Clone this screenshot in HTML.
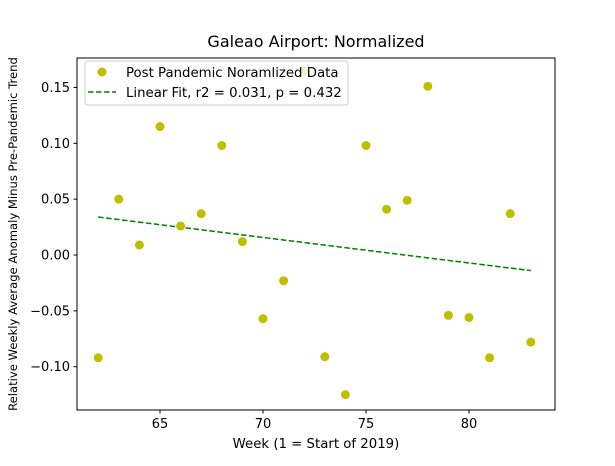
<!DOCTYPE html>
<html><head><meta charset="utf-8"><style>
body{margin:0;background:#fff;}
svg text{font-family:"DejaVu Sans","Liberation Sans",sans-serif;fill:#000;}
</style></head><body>
<svg id="c" width="615" height="461" xmlns="http://www.w3.org/2000/svg">
<text x="316" y="47" font-size="16" text-anchor="middle">Galeao Airport: Normalized</text>
<g id="marks"></g>
<rect x="77" y="58" width="478" height="352" fill="none" stroke="#000" stroke-width="1"/>
<g id="ticks"></g>
<text x="316" y="448" font-size="13.3" text-anchor="middle">Week (1 = Start of 2019)</text>
<text transform="translate(17,234) rotate(-90)" font-size="11.6" text-anchor="middle">Relative Weekly Average Anomaly Minus Pre-Pandemic Trend</text>
<g>
<rect x="85" y="61" width="263" height="44" rx="3" fill="#fff" fill-opacity="0.8" stroke="#ccc"/>
<circle cx="102" cy="72" r="4.5" fill="#bfbf00"/>
<text x="126" y="77" font-size="13.3">Post Pandemic Noramlized Data</text>
<line x1="88" y1="92" x2="116" y2="92" stroke="#008000" stroke-width="1.5" stroke-dasharray="5.5,2.5"/>
<text x="126" y="97" font-size="13.3">Linear Fit, r2 = 0.031, p = 0.432</text>
</g>
</svg>
<script>
const weeks=[62,63,64,65,66,67,68,69,70,71,72,73,74,75,76,77,78,79,80,81,82,83];
const values=[-0.092,0.050,0.009,0.115,0.026,0.037,0.098,0.012,-0.057,-0.023,0.165,-0.091,-0.125,0.098,0.041,0.049,0.151,-0.054,-0.056,-0.092,0.037,-0.078];
const xTicks=[65,70,75,80];
const yTicks=[-0.10,-0.05,0.00,0.05,0.10,0.15];
const yTickLabels=["−0.10","−0.05","0.00","0.05","0.10","0.15"];
const NS="http://www.w3.org/2000/svg";
function xs(v){return 160+(v-65)*20.6;}
function ys(v){return 255-v*1117;}
const marks=document.getElementById('marks');
const ticks=document.getElementById('ticks');
function mk(tag,attrs,parent){const e=document.createElementNS(NS,tag);for(const k in attrs)e.setAttribute(k,attrs[k]);parent.appendChild(e);return e;}
const n=weeks.length;let mx=0,my=0;for(let i=0;i<n;i++){mx+=weeks[i];my+=values[i];}mx/=n;my/=n;
let sxy=0,sxx=0;for(let i=0;i<n;i++){sxy+=(weeks[i]-mx)*(values[i]-my);sxx+=(weeks[i]-mx)**2;}
const slope=sxy/sxx,inter=my-slope*mx;
const w0=weeks[0],w1=weeks[n-1];
const fit=mk('line',{x1:xs(w0),y1:ys(inter+slope*w0),x2:xs(w1),y2:ys(inter+slope*w1),stroke:'#008000','stroke-width':1.5,'stroke-dasharray':'5.5,2.5'},marks);


for(let i=0;i<n;i++){
 const c=mk('circle',{cx:xs(weeks[i]),cy:ys(values[i]),r:4.5,fill:'#bfbf00'},marks);
 
 
}
xTicks.forEach(t=>{
 mk('line',{x1:xs(t),y1:410,x2:xs(t),y2:413.5,stroke:'#000'},ticks);
 const tx=mk('text',{x:xs(t),y:428,'font-size':13,'text-anchor':'middle'},ticks);
 tx.textContent=t;
 
 
});
yTicks.forEach((t,i)=>{
 mk('line',{x1:73.5,y1:ys(t),x2:77,y2:ys(t),stroke:'#000'},ticks);
 const tx=mk('text',{x:70,y:ys(t)+4.5,'font-size':13,'text-anchor':'end'},ticks);
 tx.textContent=yTickLabels[i];
 
 
});
</script>
</body></html>
